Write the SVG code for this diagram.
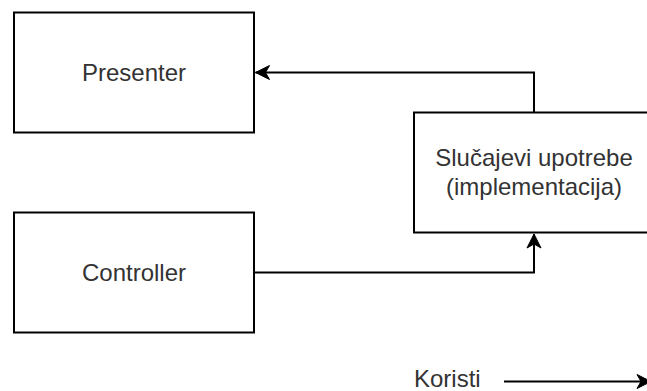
<svg xmlns="http://www.w3.org/2000/svg" width="647" height="391" viewBox="0 0 647 391">
  <style>
    .box { fill: #ffffff; stroke: #000000; stroke-width: 2; }
    .lbl { font-family: "Liberation Sans", Arial, sans-serif; font-size: 24px; fill: #333333; }
    .conn { fill: none; stroke: #000000; stroke-width: 2; }
  </style>
  <defs>
    <marker id="arrow" markerUnits="userSpaceOnUse" markerWidth="16" markerHeight="16" viewBox="-15 -8 16 16" refX="0" refY="0" orient="auto">
      <path d="M0,0 L-14,-7 L-10,0 L-14,7 Z" fill="#000000" stroke="#000000" stroke-width="1"/>
    </marker>
  </defs>
  <rect width="647" height="391" fill="#ffffff"/>
  <g id="presenter">
    <rect class="box" x="14" y="12.5" width="240" height="120"/>
    <text class="lbl" x="134" y="80.5" text-anchor="middle">Presenter</text>
  </g>
  <g id="controller">
    <rect class="box" x="14" y="212.5" width="240" height="120"/>
    <text class="lbl" x="134" y="280.5" text-anchor="middle">Controller</text>
  </g>
  <g id="slucajevi">
    <rect class="box" x="414" y="112.5" width="240" height="120"/>
    <text class="lbl" x="534" y="166" text-anchor="middle">Slučajevi upotrebe</text>
    <text class="lbl" x="534" y="195" text-anchor="middle">(implementacija)</text>
  </g>
  <g id="connectors">
    <path class="conn" d="M534,112.5 L534,72.5 L255.5,72.5" marker-end="url(#arrow)"/>
    <path class="conn" d="M254,272.5 L534,272.5 L534,234" marker-end="url(#arrow)"/>
  </g>
  <g id="legend">
    <text class="lbl" x="414" y="387">Koristi</text>
    <path class="conn" d="M504,381.5 L651,381.5" marker-end="url(#arrow)"/>
  </g>
</svg>
